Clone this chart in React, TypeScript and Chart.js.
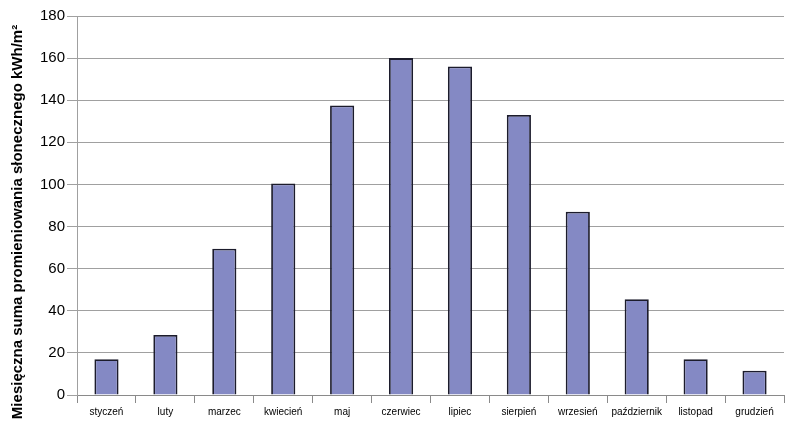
import React, { useEffect, useRef } from "react";
import { Chart, registerables } from "chart.js";

Chart.register(...registerables);

const months = ["styczeń", "luty", "marzec", "kwiecień", "maj", "czerwiec", "lipiec", "sierpień", "wrzesień", "październik", "listopad", "grudzień"];
const irradiation = [17, 28.5, 69.5, 100.5, 137.5, 160, 156, 133, 87, 45.5, 17, 11.5];
const yTitle = "Miesięczna suma promieniowania słonecznego kWh/m²";

const yTitlePlugin = {
  id: "yTitlePlugin",
  afterDraw(chart: any) {
    const ctx = chart.ctx;
    ctx.save();
    ctx.translate(18, 222);
    ctx.rotate(-Math.PI / 2);
    ctx.font = "bold 15px 'Liberation Sans', Arial";
    ctx.fillStyle = "#000";
    ctx.textAlign = "center";
    ctx.textBaseline = "middle";
    ctx.fillText(yTitle, 0, 0);
    ctx.restore();
  },
};

export default function App() {
  const ref = useRef<HTMLCanvasElement | null>(null);
  useEffect(() => {
    if (!ref.current) return;
    const chart = new Chart(ref.current, {
      type: "bar",
      data: {
        labels: months,
        datasets: [
          {
            data: irradiation,
            backgroundColor: "#8489C4",
            borderColor: "#1c1c2c",
            borderWidth: 1.8,
            barPercentage: 0.41,
            categoryPercentage: 1,
          },
        ],
      },
      options: {
        animation: false,
        responsive: false,
        maintainAspectRatio: false,
        layout: { padding: { left: 38, right: 6, top: 16, bottom: 7 } },
        plugins: { legend: { display: false }, tooltip: { enabled: false } },
        scales: {
          x: {
            grid: { display: true, drawOnChartArea: false, drawTicks: true, tickLength: 8, color: "#8a8a8a", offset: true },
            border: { display: true, color: "#8a8a8a" },
            ticks: { color: "#000", font: { family: "Liberation Sans, Arial", size: 10 }, padding: 3, maxRotation: 0, autoSkip: false },
          },
          y: {
            min: 0,
            max: 180,
            ticks: { stepSize: 20, color: "#000", font: { family: "Liberation Sans, Arial", size: 15 }, padding: 2 },
            grid: { color: "#a0a0a0", tickLength: 10, drawTicks: true },
            border: { display: true, color: "#a0a0a0" },
            title: { display: false },
          },
        },
      },
      plugins: [yTitlePlugin],
    });
    return () => chart.destroy();
  }, []);
  return (
    <div style={{ position: "fixed", left: 0, top: 0, width: 790, height: 428, background: "#fff" }}>
      <canvas ref={ref} width={790} height={428} style={{ width: 790, height: 428, display: "block" }} />
    </div>
  );
}
